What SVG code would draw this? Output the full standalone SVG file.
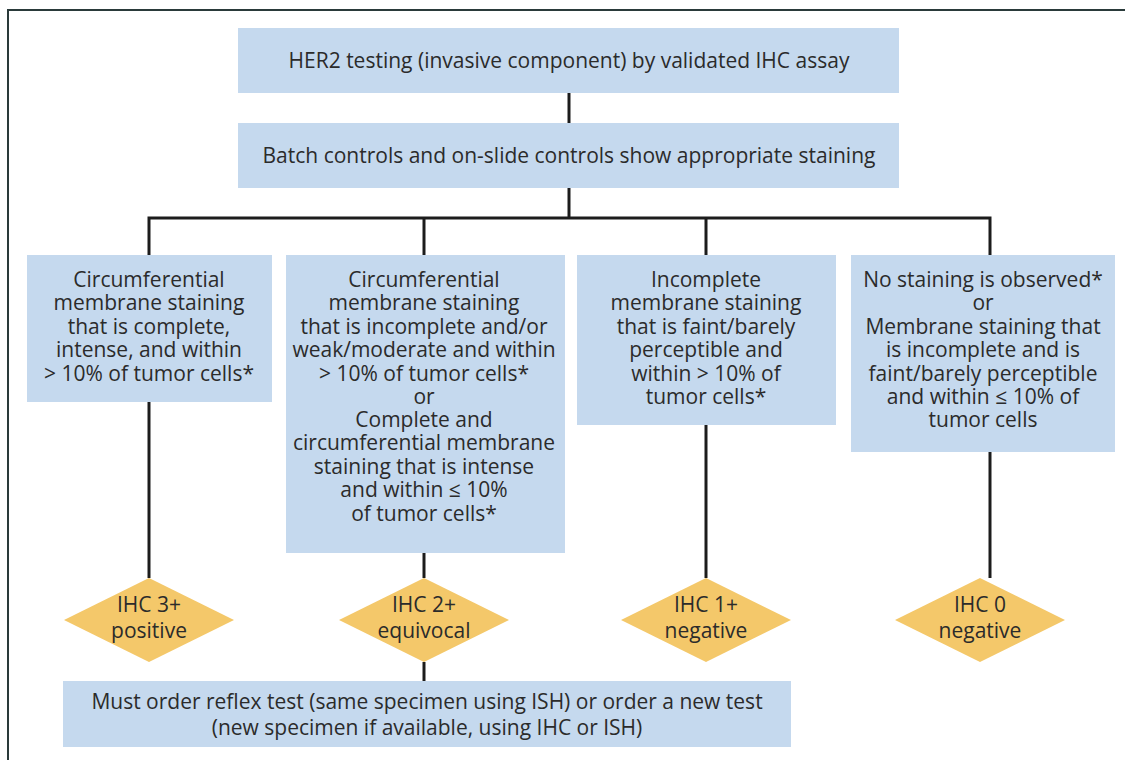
<svg xmlns="http://www.w3.org/2000/svg" width="1125" height="760" viewBox="0 0 1125 760">
<style>
.box{fill:#c5d9ee;}
.dia{fill:#f4c86a;}
.t{font-family:"Open Sans","Liberation Sans",Arial,sans-serif;font-size:21px;fill:#2b2b2b;text-anchor:middle;}
.c{stroke:#1c1c1c;stroke-width:3;fill:none;}
.frame{stroke:#2a3a3a;stroke-width:2;fill:none;}
</style>
<rect width="1125" height="760" fill="#ffffff"/>
<path class="frame" d="M8,762 V10 H1127"/>
<g id="connectors">
<path class="c" d="M569,93 V123"/>
<path class="c" d="M569,188 V218"/>
<path class="c" d="M149,255 V218 H990 V255"/>
<path class="c" d="M424,218 V255"/>
<path class="c" d="M706,218 V255"/>
<path class="c" d="M149,402 V578"/>
<path class="c" d="M424,553 V578"/>
<path class="c" d="M706,425 V578"/>
<path class="c" d="M990,452 V578"/>
<path class="c" d="M424,662 V681"/>
</g>
<g id="n1"><rect class="box" x="238" y="28" width="661" height="65"/>
<text class="t" x="569" y="68">HER2 testing (invasive component) by validated IHC assay</text></g>
<g id="n2"><rect class="box" x="238" y="123" width="661" height="65"/>
<text class="t" x="569" y="163">Batch controls and on-slide controls show appropriate staining</text></g>
<g id="n3"><rect class="box" x="27" y="255" width="245" height="147"/>
<text class="t" x="149"><tspan x="149" y="287">Circumferential</tspan><tspan x="149" y="310">membrane staining</tspan><tspan x="149" y="334">that is complete,</tspan><tspan x="149" y="357">intense, and within</tspan><tspan x="149" y="381">&gt; 10% of tumor cells*</tspan></text></g>
<g id="n4"><rect class="box" x="286" y="255" width="279" height="298"/>
<text class="t" x="424"><tspan x="424" y="287">Circumferential</tspan><tspan x="424" y="310">membrane staining</tspan><tspan x="424" y="334">that is incomplete and/or</tspan><tspan x="424" y="357">weak/moderate and within</tspan><tspan x="424" y="381">&gt; 10% of tumor cells*</tspan><tspan x="424" y="404">or</tspan><tspan x="424" y="427">Complete and</tspan><tspan x="424" y="450">circumferential membrane</tspan><tspan x="424" y="474">staining that is intense</tspan><tspan x="424" y="497">and within ≤ 10%</tspan><tspan x="424" y="521">of tumor cells*</tspan></text></g>
<g id="n5"><rect class="box" x="577" y="255" width="259" height="170"/>
<text class="t" x="706"><tspan x="706" y="287">Incomplete</tspan><tspan x="706" y="310">membrane staining</tspan><tspan x="706" y="334">that is faint/barely</tspan><tspan x="706" y="357">perceptible and</tspan><tspan x="706" y="381">within &gt; 10% of</tspan><tspan x="706" y="404">tumor cells*</tspan></text></g>
<g id="n6"><rect class="box" x="851" y="255" width="264" height="197"/>
<text class="t" x="983"><tspan x="983" y="287">No staining is observed*</tspan><tspan x="983" y="310">or</tspan><tspan x="983" y="334">Membrane staining that</tspan><tspan x="983" y="357">is incomplete and is</tspan><tspan x="983" y="381">faint/barely perceptible</tspan><tspan x="983" y="404">and within ≤ 10% of</tspan><tspan x="983" y="427">tumor cells</tspan></text></g>
<g id="d1"><polygon class="dia" points="149,578 234,620 149,662 64,620"/>
<text class="t"><tspan x="149" y="612">IHC 3+</tspan><tspan x="149" y="638">positive</tspan></text></g>
<g id="d2"><polygon class="dia" points="424,578 509,620 424,662 339,620"/>
<text class="t"><tspan x="424" y="612">IHC 2+</tspan><tspan x="424" y="638">equivocal</tspan></text></g>
<g id="d3"><polygon class="dia" points="706,578 791,620 706,662 621,620"/>
<text class="t"><tspan x="706" y="612">IHC 1+</tspan><tspan x="706" y="638">negative</tspan></text></g>
<g id="d4"><polygon class="dia" points="980,578 1065,620 980,662 895,620"/>
<text class="t"><tspan x="980" y="612">IHC 0</tspan><tspan x="980" y="638">negative</tspan></text></g>
<g id="n7"><rect class="box" x="63" y="681" width="728" height="66"/>
<text class="t"><tspan x="427" y="709">Must order reflex test (same specimen using ISH) or order a new test</tspan><tspan x="427" y="735">(new specimen if available, using IHC or ISH)</tspan></text></g>
</svg>
